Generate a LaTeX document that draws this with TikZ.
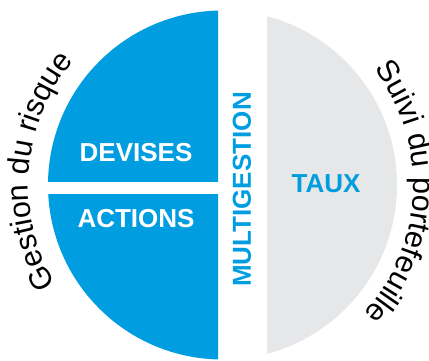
\documentclass[tikz,border=0pt]{standalone}
\usepackage{fontspec}
\setmainfont{Liberation Sans}
\usetikzlibrary{decorations.text,calc}
\definecolor{mblue}{RGB}{0,158,224}
\definecolor{mgray}{RGB}{230,231,232}
\newcommand{\curvefont}{\fontsize{30.5}{30.5}\selectfont}
\tikzset{
  label box/.style={inner sep=0pt, font=\fontsize{26}{26}\selectfont\bfseries},
  curve text/.style={decorate, decoration={text along path, text align=center, text={#1}}}
}
\begin{document}
\begin{tikzpicture}[x=1pt,y=1pt]
\useasboundingbox (0,0) rectangle (429,360);
\coordinate (C) at (222.5,175);
% blue upper part
\begin{scope}
  \clip (0,179) rectangle (218,360);
  \fill[mblue] (C) circle (174.5);
\end{scope}
% blue lower part
\begin{scope}
  \clip (0,0) rectangle (218,166);
  \fill[mblue] (C) circle (174.5);
\end{scope}
% gray right part
\begin{scope}
  \clip (267,0) rectangle (429,360);
  \fill[mgray] (C) circle (174.5);
\end{scope}
\node[label box, text=white] (devises) at (136,207) {DEVISES};
\node[label box, text=white] (actions) at (136,141.5) {ACTIONS};
\node[label box, text=mblue] (taux) at (326,176) {TAUX};
\node[label box, text=mblue, rotate=90] (multi) at (242,170.5) {MULTIGESTION};
\path[curve text={|\curvefont|Gestion du risque}]
  ($(C)+(217.5:194)$) arc[start angle=217.5, end angle=133.5, radius=194];
\path[curve text={|\curvefont|Suivi du portefeuille}]
  ($(C)+(43.5:191)$) arc[start angle=43.5, end angle=-48.5, radius=191];
\end{tikzpicture}
\end{document}
